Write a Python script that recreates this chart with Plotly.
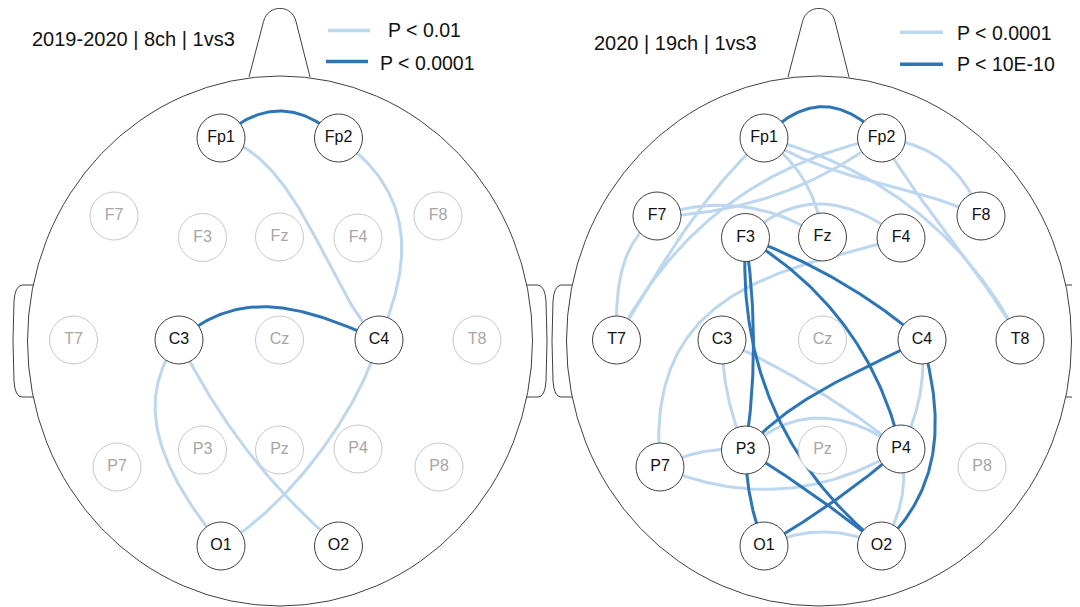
import numpy as np
import plotly.graph_objects as go

# ---------------- data ----------------
ELECTRODES = ["Fp1", "Fp2", "F7", "F3", "Fz", "F4", "F8", "T7", "C3", "Cz",
              "C4", "T8", "P7", "P3", "Pz", "P4", "P8", "O1", "O2"]
# montage positions of the electrodes inside one head panel (panel pixel units)
EL_X = [221, 338.5, 114, 202.5, 279.5, 358, 438, 73.5, 179, 279.5,
        379, 477, 117, 202.5, 279.5, 358, 439, 221, 338.5]
EL_Y = [138, 138, 216, 237.5, 237, 238, 216, 340, 340, 340,
        340, 340, 467, 450, 450, 449, 467, 546, 546]

PANEL_TITLES = ["2019-2020 | 8ch | 1vs3", "2020 | 19ch | 1vs3"]
LEGEND_LABELS = [["P < 0.01", "P < 0.0001"], ["P < 0.0001", "P < 10E-10"]]
ACTIVE = [
    ["Fp1", "Fp2", "C3", "C4", "O1", "O2"],
    [e for e in ELECTRODES if e not in ("Cz", "Pz", "P8")],
]

# significant connections: from, to, level (0 = weaker, 1 = stronger)
CONN_L_FROM = ["Fp1", "C3", "Fp1", "Fp2", "C3", "C3", "C4"]
CONN_L_TO = ["Fp2", "C4", "C4", "C4", "O1", "O2", "O1"]
CONN_L_LEVEL = [1, 1, 0, 0, 0, 0, 0]

CONN_R_FROM = ["Fp1", "F3", "F3", "F3", "F3", "C4", "C4", "P3", "P3", "P4",
               "Fp1", "Fp2", "F7", "F7", "F7", "Fp1", "Fp1", "Fp1", "Fp2", "Fp2",
               "F3", "F4", "C3", "C3", "P3", "P7", "P7", "C4", "P4", "O1"]
CONN_R_TO = ["Fp2", "P3", "O2", "C4", "P4", "P3", "O2", "O1", "O2", "O1",
             "T7", "T7", "T7", "Fp2", "Fz", "Fz", "F8", "T8", "T8", "F8",
             "F4", "P7", "P3", "P4", "P4", "P3", "P4", "P4", "O2", "O2"]
CONN_R_LEVEL = [1] * 10 + [0] * 20

# ---------------- styling ----------------
# curve shape (cubic bezier control points: along-chord fraction, perpendicular fraction)
BEND = {
    0: {
        ("Fp1", "Fp2"): (1/3, .307, 2/3, .307),
        ("C3", "C4"): (.3, .26, .6, .18),
        ("Fp1", "C4"): (.25, .2, .75, -.05),
        ("Fp2", "C4"): (.348, .33, .681, .22),
        ("C3", "O1"): (.3, -.35, .75, -.12),
        ("C3", "O2"): (1/3, -.07, 2/3, -.07),
        ("C4", "O1"): (.25, .1, .7, .12),
    },
    1: {
        ("Fp1", "Fp2"): (1/3, .355, 2/3, .355),
        ("F3", "P3"): (1/3, .05, 2/3, .05),
        ("F3", "O2"): (1/3, -.17, 2/3, -.17),
        ("F3", "C4"): (1/3, .06, 2/3, .06),
        ("F3", "P4"): (1/3, .14, 2/3, .14),
        ("C4", "P3"): (1/3, -.03, 2/3, -.1),
        ("C4", "O2"): (1/3, .17, 2/3, .24),
        ("P3", "O1"): (1/3, -.06, 2/3, -.06),
        ("P3", "O2"): (1/3, .02, 2/3, .02),
        ("P4", "O1"): (1/3, .03, 2/3, .03),
        ("Fp1", "T7"): (1/3, -.07, 2/3, -.03),
        ("Fp2", "T7"): (1/3, -.16, 2/3, -.16),
        ("F7", "T7"): (.3, -.2, .6, -.14),
        ("F7", "Fp2"): (1/3, -.107, 2/3, -.107),
        ("F7", "Fz"): (1/3, .16, 2/3, .16),
        ("Fp1", "Fz"): (1/3, .15, 2/3, .15),
        ("Fp1", "F8"): (1/3, -.08, 2/3, .03),
        ("Fp1", "T8"): (1/3, .15, 2/3, .15),
        ("Fp2", "T8"): (1/3, -.03, 2/3, .03),
        ("Fp2", "F8"): (1/3, .21, 2/3, .21),
        ("F3", "F4"): (.3, .29, .63, .29),
        ("F4", "P7"): (1/3, -.18, 2/3, -.42),
        ("C3", "P3"): (1/3, -.07, 2/3, -.07),
        ("C3", "P4"): (1/3, .04, 2/3, .04),
        ("P3", "P4"): (.3, .27, .62, .27),
        ("P7", "P3"): (1/3, .1, 2/3, .1),
        ("P7", "P4"): (1/3, -.17, 2/3, -.17),
        ("C4", "P4"): (1/3, .1, 2/3, .1),
        ("P4", "O2"): (1/3, .14, 2/3, .14),
        ("O1", "O2"): (1/3, .16, 2/3, .16),
    },
}

W, H = 1080, 607
PAGE_MARGIN = 8              # default body margin of the html page
EL_SHIFT = [0, 543]          # electrode panel offsets
HEAD_CX = [280, 819]         # head outline centres
HEAD_CY = 341
HEAD_RX, HEAD_RY = 252.5, 265
LIGHT = "#BDD7EE"
DARK = "#2E75B6"
OUTLINE = "#404040"
FONT = "Arial, Liberation Sans, sans-serif"

fig = go.Figure()


def bezier(A, B, a1, h1, a2, h2, n=80):
    A = np.asarray(A, float)
    B = np.asarray(B, float)
    d = B - A
    L = np.hypot(*d)
    nv = np.array([d[1], -d[0]]) / L
    c1 = A + a1 * d + h1 * L * nv
    c2 = A + a2 * d + h2 * L * nv
    t = np.linspace(0, 1, n)[:, None]
    return ((1 - t) ** 3) * A + 3 * ((1 - t) ** 2) * t * c1 + 3 * (1 - t) * t ** 2 * c2 + t ** 3 * B


pos = {e: (x, y) for e, x, y in zip(ELECTRODES, EL_X, EL_Y)}
conns = [(CONN_L_FROM, CONN_L_TO, CONN_L_LEVEL), (CONN_R_FROM, CONN_R_TO, CONN_R_LEVEL)]

for p in range(2):
    fr, to, lev = conns[p]
    for level, color in ((0, LIGHT), (1, DARK)):
        xs, ys = [], []
        for a, b, lv in zip(fr, to, lev):
            if lv != level:
                continue
            A = (pos[a][0] + EL_SHIFT[p], pos[a][1])
            B = (pos[b][0] + EL_SHIFT[p], pos[b][1])
            pts = bezier(A, B, *BEND[p][(a, b)])
            xs += list(pts[:, 0]) + [None]
            ys += list(pts[:, 1]) + [None]
        fig.add_trace(go.Scatter(x=xs, y=ys, mode="lines",
                                 line=dict(color=color, width=3),
                                 hoverinfo="skip", showlegend=False))

    act = ACTIVE[p]
    fig.add_trace(go.Scatter(
        x=[x + EL_SHIFT[p] for x in EL_X], y=EL_Y, mode="markers+text",
        text=ELECTRODES, textposition="middle center",
        textfont=dict(family=FONT, size=16,
                      color=["#111111" if e in act else "#A6A6A6" for e in ELECTRODES]),
        marker=dict(size=48, color="white",
                    line=dict(width=1, color=[OUTLINE if e in act else "#C8C8C8" for e in ELECTRODES])),
        hoverinfo="skip", showlegend=False))

shapes = []
annotations = []
for p in range(2):
    cx = HEAD_CX[p]
    shapes.append(dict(type="circle", xref="x", yref="y",
                       x0=cx - HEAD_RX, x1=cx + HEAD_RX,
                       y0=HEAD_CY - HEAD_RY, y1=HEAD_CY + HEAD_RY,
                       line=dict(color=OUTLINE, width=1), layer="below"))
    cy = HEAD_CY
    nose = (f"M {cx-31},{cy-264} L {cx-16.5},{cy-319.5} "
            f"C {cx-12},{cy-337} {cx+12},{cy-337} {cx+16},{cy-319.5} "
            f"L {cx+30},{cy-264}")
    shapes.append(dict(type="path", path=nose, xref="x", yref="y",
                       line=dict(color=OUTLINE, width=1), layer="below"))
    for s in (-1, 1):
        e0 = cx + s * 246.8
        ear = (f"M {e0},{cy-56} L {cx+s*258},{cy-56} "
               f"Q {cx+s*265},{cy-55} {cx+s*266},{cy-40} "
               f"Q {cx+s*268},{cy} {cx+s*266},{cy+40} "
               f"Q {cx+s*265},{cy+56} {cx+s*258},{cy+56} L {e0},{cy+56}")
        shapes.append(dict(type="path", path=ear, xref="x", yref="y",
                           line=dict(color=OUTLINE, width=1), layer="below"))

# titles
annotations.append(dict(x=30, y=38.5, xref="x", yref="y", text=PANEL_TITLES[0],
                        showarrow=False, xanchor="left", yanchor="middle",
                        font=dict(family=FONT, size=20, color="#111111")))
annotations.append(dict(x=592, y=42.5, xref="x", yref="y", text=PANEL_TITLES[1],
                        showarrow=False, xanchor="left", yanchor="middle",
                        font=dict(family=FONT, size=20, color="#111111")))

# legends
leg_lines = [[(328, 370, 30.5), (326, 368, 61.5)], [(900, 943, 32.3), (900, 943, 64.3)]]
leg_text = [[(424, 30, "center"), (427.5, 63, "center")], [(955, 32.5, "left"), (955, 63.5, "left")]]
for p in range(2):
    for k, color in enumerate((LIGHT, DARK)):
        x0, x1, y = leg_lines[p][k]
        shapes.append(dict(type="line", xref="x", yref="y", x0=x0, x1=x1, y0=y, y1=y,
                           line=dict(color=color, width=3.5)))
        tx, ty, anc = leg_text[p][k]
        annotations.append(dict(x=tx, y=ty, xref="x", yref="y", text=LEGEND_LABELS[p][k],
                                showarrow=False, xanchor=anc, yanchor="middle",
                                font=dict(family=FONT, size=19.5, color="#111111")))

fig.update_layout(
    width=W - PAGE_MARGIN, height=H - PAGE_MARGIN, margin=dict(l=0, r=0, t=0, b=0),
    paper_bgcolor="white", plot_bgcolor="white",
    xaxis=dict(range=[PAGE_MARGIN, W], visible=False, fixedrange=True),
    yaxis=dict(range=[H, PAGE_MARGIN], visible=False, fixedrange=True),
    shapes=shapes, annotations=annotations, showlegend=False,
)

fig.write_html("out.html")
